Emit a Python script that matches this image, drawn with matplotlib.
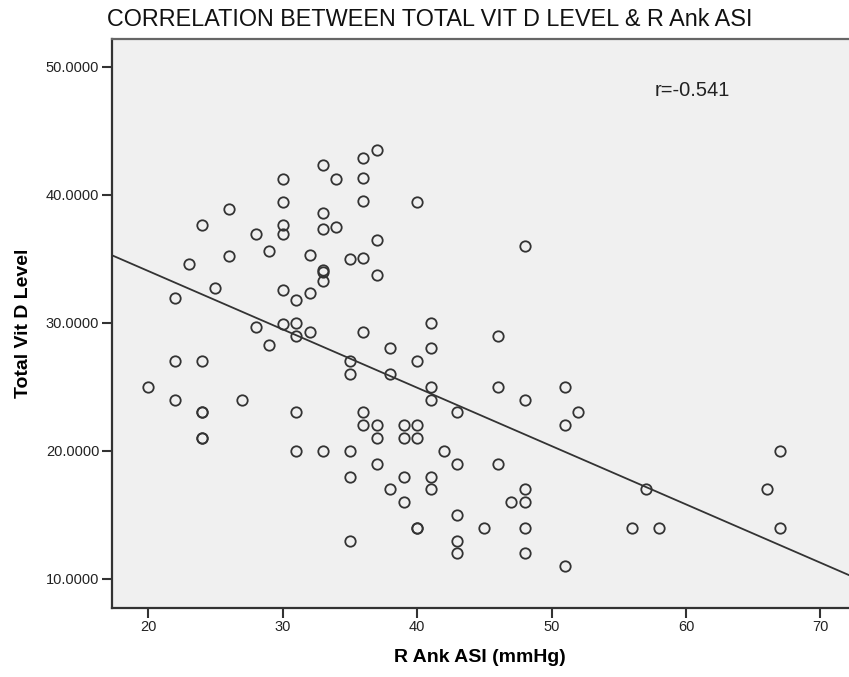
import numpy as np
import matplotlib
matplotlib.use("Agg")
import matplotlib.pyplot as plt
from matplotlib.ticker import FormatStrFormatter

# R Ank ASI (mmHg) and total vitamin D level, one entry per subject
asi_mmhg = [20,
            22, 22, 22,
            23,
            24, 24, 24, 24, 24, 24,
            25,
            26, 26,
            27,
            28, 28,
            29, 29,
            30, 30, 30, 30, 30, 30,
            31, 31, 31, 31, 31,
            32, 32, 32,
            33, 33, 33, 33, 33, 33, 33,
            34, 34,
            35, 35, 35, 35, 35, 35,
            36, 36, 36, 36, 36, 36, 36,
            37, 37, 37, 37, 37, 37,
            38, 38, 38,
            39, 39, 39, 39,
            40, 40, 40, 40, 40, 40,
            41, 41, 41, 41, 41, 41,
            42,
            43, 43, 43, 43, 43,
            45,
            46, 46, 46,
            47,
            48, 48, 48, 48, 48, 48,
            51, 51, 51,
            52,
            56, 57, 58,
            66,
            67, 67]
vit_d_level = [25,
               31.9, 27, 24,
               34.6,
               37.6, 27, 23, 23, 21, 21,
               32.7,
               38.9, 35.2,
               24,
               36.9, 29.7,
               35.6, 28.3,
               41.2, 39.4, 37.6, 36.9, 32.6, 29.9,
               31.8, 30.0, 29.0, 23, 20,
               35.3, 32.3, 29.3,
               42.3, 38.6, 37.3, 34.1, 34.0, 33.3, 20,
               41.2, 37.5,
               35.0, 27, 26, 20, 18, 13,
               42.9, 41.3, 39.5, 35.1, 29.3, 23, 22,
               43.5, 36.5, 33.7, 22, 21, 19,
               28, 26, 17,
               22, 21, 18, 16,
               39.4, 27, 22, 21, 14, 14,
               30, 28, 25, 24, 18, 17,
               20,
               23, 19, 15, 13, 12,
               14,
               29, 25, 19,
               16,
               36, 24, 17, 16, 14, 12,
               25, 22, 11,
               23,
               14, 17, 14,
               17,
               20, 14]

x_ticks = [20, 30, 40, 50, 60, 70]
y_ticks = [10, 20, 30, 40, 50]

plt.rcParams['font.family'] = ['Liberation Sans', 'DejaVu Sans']

x = np.array(asi_mmhg)
y = np.array(vit_d_level)
slope, intercept = np.polyfit(x, y, 1)

fig = plt.figure(figsize=(8.49, 6.77), dpi=100)
ax = fig.add_axes([0.1316, 0.1024, 0.8684, 0.84])
ax.set_facecolor('#f0f0f0')

ax.set_xlim(17.28, 72.13)
ax.set_ylim(7.76, 52.16)

xl = np.array(ax.get_xlim())
ax.plot(xl, intercept + slope * xl, color='#333333', lw=1.3, zorder=2)
ax.plot(x, y, 'o', ms=7.5, mfc='none', mec='#333333', mew=1.3, zorder=3)

ax.set_xticks(x_ticks)
ax.set_yticks(y_ticks)
ax.yaxis.set_major_formatter(FormatStrFormatter('%.4f'))
ax.tick_params(length=7, width=1.5, color='#333333', labelsize=10.5,
               labelcolor='#222222', pad=2)

for s in ['left', 'bottom']:
    ax.spines[s].set_linewidth(1.6)
    ax.spines[s].set_color('#333333')
ax.spines['top'].set_linewidth(1.6)
ax.spines['top'].set_color('#666666')
ax.spines['right'].set_visible(False)

ax.set_xlabel('R Ank ASI (mmHg)', fontsize=14, fontweight='bold', labelpad=11)
ax.set_ylabel('Total Vit D Level', fontsize=14, fontweight='bold', labelpad=10)

fig.text(107 / 849, 1 - 20 / 677, 'CORRELATION BETWEEN TOTAL VIT D LEVEL & R Ank ASI',
         fontsize=16.8, ha='left', va='center', color='#111111')
ax.text(655 / 849, 1 - 91 / 677, 'r=-0.541', transform=fig.transFigure,
        fontsize=14.5, ha='left', va='center', color='#222222')

fig.savefig('out.png', dpi=100)
